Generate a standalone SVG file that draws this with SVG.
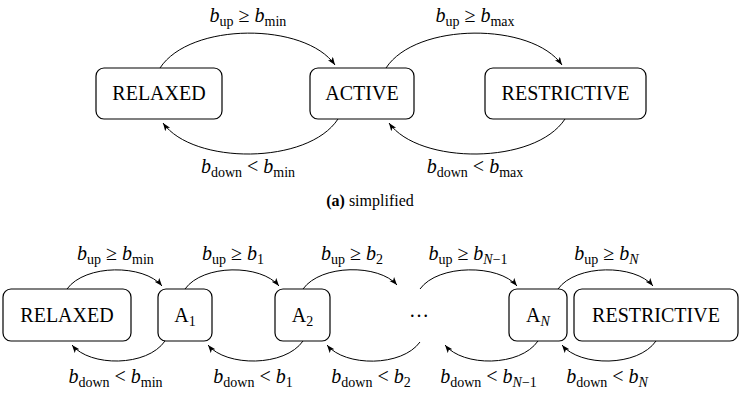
<svg xmlns="http://www.w3.org/2000/svg" width="748" height="404" viewBox="0 0 748 404">
<defs>
<marker id="arr" markerUnits="userSpaceOnUse" markerWidth="10" markerHeight="8" refX="8" refY="3" orient="auto">
<path d="M0,0 L8,3 L0,6 L2,3 z" fill="#000"/>
</marker>
<style>
.box{fill:#fff;stroke:#000;stroke-width:1.2}
.t{font-family:"Liberation Serif","Times New Roman",serif;font-size:20px;fill:#000}
.c{text-anchor:middle}
.i{font-style:italic}
.s{font-size:14px}
.edge{fill:none;stroke:#000;stroke-width:1;marker-end:url(#arr)}
.cap{font-family:"Liberation Serif","Times New Roman",serif;font-size:16px;fill:#000;text-anchor:middle}
</style>
</defs>
<rect width="748" height="404" fill="#fff"/>

<g id="top-relaxed"><rect class="box" x="96" y="68" width="126" height="51" rx="8"/><text class="t c" x="159" y="100">RELAXED</text></g>
<g id="top-active"><rect class="box" x="310" y="68" width="104" height="51" rx="8"/><text class="t c" x="362" y="100">ACTIVE</text></g>
<g id="top-restrictive"><rect class="box" x="485" y="68" width="161" height="51" rx="8"/><text class="t c" x="565.5" y="100">RESTRICTIVE</text></g>

<g id="bot-relaxed"><rect class="box" x="3" y="289" width="128" height="52" rx="8"/><text class="t c" x="67" y="322">RELAXED</text></g>
<g id="bot-a1"><rect class="box" x="158" y="289" width="54" height="52" rx="8"/><text class="t c" x="185" y="322">A<tspan class="s" dy="4">1</tspan></text></g>
<g id="bot-a2"><rect class="box" x="275" y="289" width="55" height="52" rx="8"/><text class="t c" x="302.5" y="322">A<tspan class="s" dy="4">2</tspan></text></g>
<g id="bot-dots"><text class="t c" x="419" y="317">…</text></g>
<g id="bot-an"><rect class="box" x="509" y="289" width="58" height="52" rx="8"/><text class="t c" x="538" y="322">A<tspan class="s i" dy="4">N</tspan></text></g>
<g id="bot-restrictive"><rect class="box" x="574" y="289" width="164" height="52" rx="8"/><text class="t c" x="656" y="322">RESTRICTIVE</text></g>

<g id="connectors">
<path class="edge" d="M160,68 C190,22 305,22 335,65"/>
<path class="edge" d="M386,68 C416,22 532,22 562,65"/>
<path class="edge" d="M338,119 C308,165 193,165 163,123"/>
<path class="edge" d="M565,119 C535,165 419,165 389,123"/>
<path class="edge" d="M67,289 C85,264 144,264 162,286"/>
<path class="edge" d="M185,289 C203,264 261,264 279,286"/>
<path class="edge" d="M303,289 C321,264 379,264 397,285"/>
<path class="edge" d="M420,289 C438,264 499,264 517,286"/>
<path class="edge" d="M558,289 C576,264 635,264 653,286"/>
<path class="edge" d="M165,341 C147,367 90,367 72,345"/>
<path class="edge" d="M303,341 C285,367 226,367 208,345"/>
<path class="edge" d="M420,342 C402,367 345,367 327,345"/>
<path class="edge" d="M538,341 C520,367 463,367 445,345"/>
<path class="edge" d="M656,341 C638,367 580,367 562,345"/>
</g>

<g id="labels">
<text class="t c" x="248" y="22"><tspan class="i">b</tspan><tspan class="s" dy="4">up</tspan><tspan dy="-4"> ≥ </tspan><tspan class="i">b</tspan><tspan class="s" dy="4">min</tspan></text>
<text class="t c" x="475" y="22"><tspan class="i">b</tspan><tspan class="s" dy="4">up</tspan><tspan dy="-4"> ≥ </tspan><tspan class="i">b</tspan><tspan class="s" dy="4">max</tspan></text>
<text class="t c" x="248" y="173"><tspan class="i">b</tspan><tspan class="s" dy="4">down</tspan><tspan dy="-4"> &lt; </tspan><tspan class="i">b</tspan><tspan class="s" dy="4">min</tspan></text>
<text class="t c" x="475" y="173"><tspan class="i">b</tspan><tspan class="s" dy="4">down</tspan><tspan dy="-4"> &lt; </tspan><tspan class="i">b</tspan><tspan class="s" dy="4">max</tspan></text>

<text class="t c" x="115.5" y="260"><tspan class="i">b</tspan><tspan class="s" dy="4">up</tspan><tspan dy="-4"> ≥ </tspan><tspan class="i">b</tspan><tspan class="s" dy="4">min</tspan></text>
<text class="t c" x="233" y="260"><tspan class="i">b</tspan><tspan class="s" dy="4">up</tspan><tspan dy="-4"> ≥ </tspan><tspan class="i">b</tspan><tspan class="s" dy="4">1</tspan></text>
<text class="t c" x="352" y="260"><tspan class="i">b</tspan><tspan class="s" dy="4">up</tspan><tspan dy="-4"> ≥ </tspan><tspan class="i">b</tspan><tspan class="s" dy="4">2</tspan></text>
<text class="t c" x="468" y="260"><tspan class="i">b</tspan><tspan class="s" dy="4">up</tspan><tspan dy="-4"> ≥ </tspan><tspan class="i">b</tspan><tspan class="s i" dy="4">N</tspan><tspan class="s">−1</tspan></text>
<text class="t c" x="606.5" y="260"><tspan class="i">b</tspan><tspan class="s" dy="4">up</tspan><tspan dy="-4"> ≥ </tspan><tspan class="i">b</tspan><tspan class="s i" dy="4">N</tspan></text>

<text class="t c" x="115.5" y="383"><tspan class="i">b</tspan><tspan class="s" dy="4">down</tspan><tspan dy="-4"> &lt; </tspan><tspan class="i">b</tspan><tspan class="s" dy="4">min</tspan></text>
<text class="t c" x="253" y="383"><tspan class="i">b</tspan><tspan class="s" dy="4">down</tspan><tspan dy="-4"> &lt; </tspan><tspan class="i">b</tspan><tspan class="s" dy="4">1</tspan></text>
<text class="t c" x="371" y="383"><tspan class="i">b</tspan><tspan class="s" dy="4">down</tspan><tspan dy="-4"> &lt; </tspan><tspan class="i">b</tspan><tspan class="s" dy="4">2</tspan></text>
<text class="t c" x="488.5" y="383"><tspan class="i">b</tspan><tspan class="s" dy="4">down</tspan><tspan dy="-4"> &lt; </tspan><tspan class="i">b</tspan><tspan class="s i" dy="4">N</tspan><tspan class="s">−1</tspan></text>
<text class="t c" x="607" y="383"><tspan class="i">b</tspan><tspan class="s" dy="4">down</tspan><tspan dy="-4"> &lt; </tspan><tspan class="i">b</tspan><tspan class="s i" dy="4">N</tspan></text>
</g>

<g id="caption-a"><text class="cap" x="370" y="206"><tspan font-weight="bold">(a)</tspan> simplified</text></g>
</svg>
